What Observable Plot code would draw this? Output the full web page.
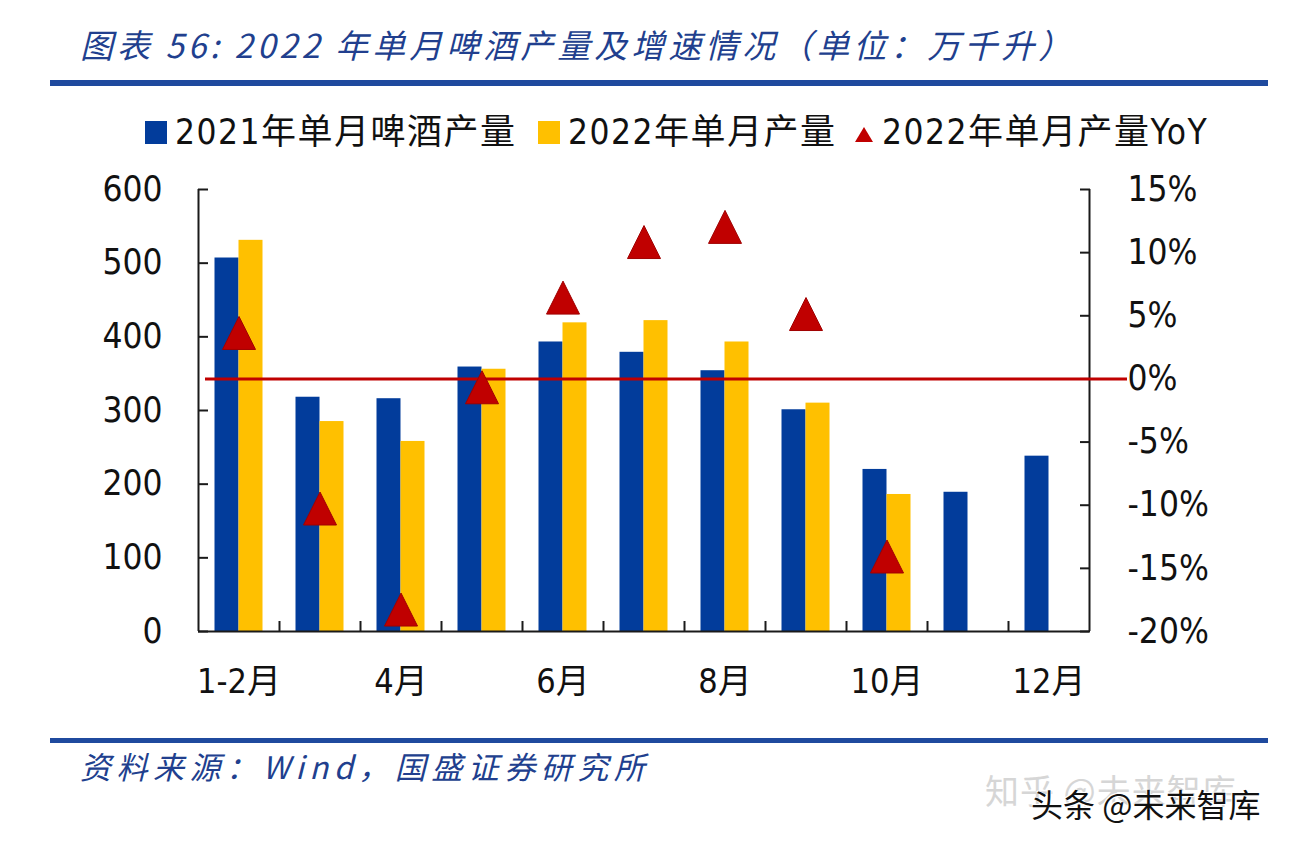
<!DOCTYPE html>
<html>
<head>
<meta charset="utf-8">
<script src="https://cdn.jsdelivr.net/npm/d3@7"></script>
<script src="https://cdn.jsdelivr.net/npm/@observablehq/plot@0.6"></script>
<style>
  html, body { margin: 0; padding: 0; background: #fff; }
  #wrap { position: relative; width: 1294px; height: 844px; overflow: hidden; background: #fff; }
  .abs { position: absolute; white-space: nowrap; }
  .title { left: 80px; top: 21px; font-family: "Noto Sans CJK SC", sans-serif; font-style: italic; font-size: 33px; line-height: 46px; color: #213f8e; letter-spacing: 4px; }
  .rule { left: 50px; width: 1218px; height: 6px; background: #1f4a9e; }
  .leg { top: 110px; font-family: "DejaVu Sans Condensed", "Noto Sans CJK SC", sans-serif; font-stretch: condensed; font-size: 35px; line-height: 44px; color: #111; letter-spacing: 1.5px; display: flex; align-items: center; }
  .sw { width: 22px; height: 23px; margin-right: 8px; }
  .src { left: 80px; top: 746px; font-family: "Noto Sans CJK SC", sans-serif; font-style: italic; font-size: 31px; line-height: 40px; color: #213f8e; letter-spacing: 5.5px; }
  .wm1 { left: 985px; top: 770px; font-family: "Noto Sans CJK SC", sans-serif; font-size: 34px; line-height: 40px; color: #d6d6d6; letter-spacing: 1px; }
  .wm2 { left: 1031px; top: 783px; font-family: "Noto Sans CJK SC", sans-serif; font-size: 32px; line-height: 40px; color: #111; text-shadow: 1px 1px 0 #fff, -1px -1px 0 #fff; }
  #chart { position: absolute; left: 0; top: 150px; }
</style>
</head>
<body>
<div id="wrap">
  <div class="abs title" id="title"></div>
  <div class="abs rule" style="top:80px"></div>
  <div class="abs leg" id="leg1" style="left:145px"></div>
  <div class="abs leg" id="leg2" style="left:538px"></div>
  <div class="abs leg" id="leg3" style="left:855px"></div>
  <div id="chart"></div>
  <div class="abs rule" style="top:738px; height:5px"></div>
  <div class="abs src" id="src"></div>
  <div class="abs wm1">知乎 @未来智库</div>
  <div class="abs wm2">头条 @未来智库</div>
</div>
<script>
// ---- data ----
const titleText = "图表 56:  2022 年单月啤酒产量及增速情况（单位：万千升）";
const sourceText = "资料来源：Wind，国盛证券研究所";
const seriesNames = ["2021年单月啤酒产量", "2022年单月产量", "2022年单月产量YoY"];
const months = ["1-2月","3月","4月","5月","6月","7月","8月","9月","10月","11月","12月"];
const prod2021 = [507, 318, 316, 359, 393, 379, 354, 301, 220, 189, 238];
const prod2022 = [531, 285, 258, 356, 419, 422, 393, 310, 186, null, null];
const yoy2022 = [3.6, -10.3, -18.3, -0.7, 6.4, 10.8, 12.0, 5.1, -14.1, null, null];
const xTickLabels = ["1-2月","4月","6月","8月","10月","12月"];
const leftTicks = [0, 100, 200, 300, 400, 500, 600];
const rightTicks = [-20, -15, -10, -5, 0, 5, 10, 15];
const leftDomain = [0, 600];
const rightDomain = [-20, 15];

const colBlue = "#023c9b", colYellow = "#ffc000", colRed = "#c00000";

document.getElementById("title").textContent = titleText;
document.getElementById("src").textContent = sourceText;
document.getElementById("leg1").innerHTML = `<div class="sw" style="background:${colBlue}"></div>${seriesNames[0]}`;
document.getElementById("leg2").innerHTML = `<div class="sw" style="background:${colYellow}"></div>${seriesNames[1]}`;
document.getElementById("leg3").innerHTML = `<svg width="18" height="16" style="margin-right:9px;margin-top:6px"><path d="M9,0L18,15L0,15Z" fill="${colRed}"/></svg>${seriesNames[2]}`;

// map right-axis (%) onto left scale
const toLeft = p => (p - rightDomain[0]) * (leftDomain[1] - leftDomain[0]) / (rightDomain[1] - rightDomain[0]);
const fromLeft = v => v * (rightDomain[1] - rightDomain[0]) / (leftDomain[1] - leftDomain[0]) + rightDomain[0];

const d2021 = months.map((m, i) => ({m, v: prod2021[i]}));
const d2022 = months.map((m, i) => ({m, v: prod2022[i]})).filter(d => d.v != null);
const dYoy = months.map((m, i) => ({m, v: yoy2022[i]})).filter(d => d.v != null);

const W = 1294, H = 580, ML = 198, MR = 205, MT = 39, MB = 99;
const bw = (W - ML - MR) / months.length;
const barW = 24;

const tri = {
  draw(ctx) {
    ctx.moveTo(0, -17); ctx.lineTo(16.5, 16); ctx.lineTo(-16.5, 16); ctx.closePath();
  }
};

const axisFont = "'DejaVu Sans Condensed', 'Noto Sans CJK SC', sans-serif";

const chart = Plot.plot({
  width: W, height: H,
  marginLeft: ML, marginRight: MR, marginTop: MT, marginBottom: MB,
  x: {type: "band", domain: months, padding: 0, axis: null, label: null},
  y: {domain: leftDomain, axis: null, label: null},
  style: {fontFamily: axisFont, fontSize: "35px", color: "#111", background: "transparent"},
  marks: [
    Plot.barY(d2021, {x: "m", y: "v", fill: colBlue, insetLeft: bw / 2 - barW, insetRight: bw / 2}),
    Plot.barY(d2022, {x: "m", y: "v", fill: colYellow, insetLeft: bw / 2, insetRight: bw / 2 - barW}),
    // axis lines
    Plot.ruleY([0], {stroke: "#1a1a1a", strokeWidth: 2}),
    Plot.ruleX([months[0]], {y1: leftDomain[0], y2: leftDomain[1], dx: -bw / 2, stroke: "#1a1a1a", strokeWidth: 2}),
    Plot.ruleX([months[months.length - 1]], {y1: leftDomain[0], y2: leftDomain[1], dx: bw / 2, stroke: "#1a1a1a", strokeWidth: 2}),
    // left axis
    Plot.axisY(leftTicks, {anchor: "left", label: null, tickSize: -10, text: null, stroke: "#1a1a1a", strokeWidth: 2}),
    Plot.axisY(leftTicks, {anchor: "left", label: null, tickSize: 0, tickPadding: 36, fill: "#111", fontSize: 35}),
    // right axis
    Plot.axisY(rightTicks.map(toLeft), {anchor: "right", label: null, tickSize: -10, text: null, stroke: "#1a1a1a", strokeWidth: 2}),
    Plot.axisY(rightTicks.map(toLeft), {anchor: "right", label: null, tickSize: 0, tickPadding: 38, fill: "#111", fontSize: 35,
      tickFormat: v => Math.round(fromLeft(v)) + "%"}),
    // x axis
    Plot.axisX(months.slice(1), {anchor: "bottom", label: null, tickSize: -10, text: null, dx: -bw / 2, stroke: "#1a1a1a", strokeWidth: 2}),
    Plot.axisX(xTickLabels, {anchor: "bottom", label: null, tickSize: 0, tickPadding: 37, fill: "#111", fontSize: 34}),
    // zero line of YoY
    Plot.ruleY([0], {y: d => toLeft(d), stroke: colRed, strokeWidth: 3, insetLeft: 7, insetRight: -38}),
    // YoY triangles
    Plot.dot(dYoy, {x: "m", y: d => toLeft(d.v), symbol: tri, r: 10, fill: colRed, stroke: "#a00000", strokeWidth: 1})
  ]
});
document.getElementById("chart").appendChild(chart);
</script>
</body>
</html>
